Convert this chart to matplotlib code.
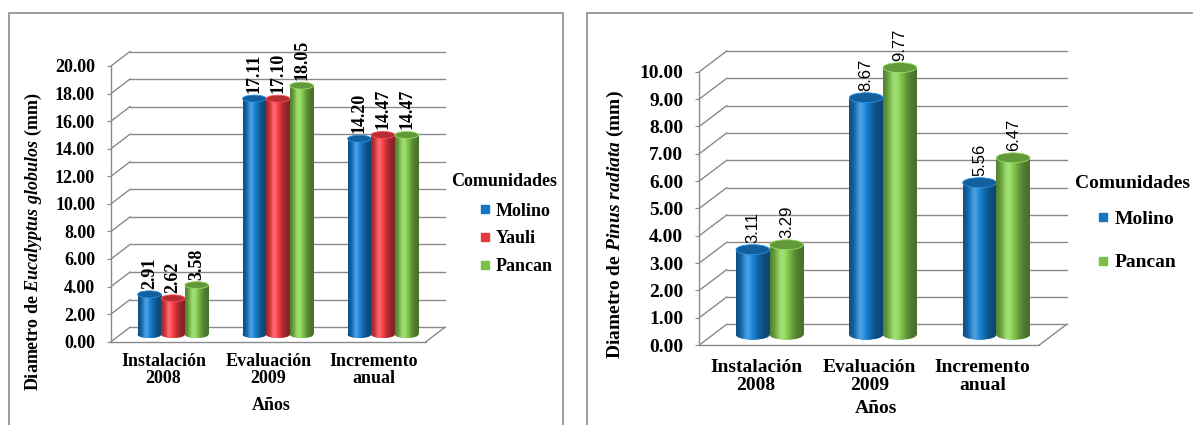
import matplotlib.pyplot as plt
import numpy as np
from matplotlib.patches import Ellipse, Rectangle
from matplotlib.lines import Line2D
from matplotlib.colors import to_rgb

plt.rcParams['font.family'] = 'serif'
plt.rcParams['font.serif'] = ['Liberation Serif', 'DejaVu Serif']
plt.rcParams['font.weight'] = 'bold'
plt.rcParams['mathtext.fontset'] = 'custom'
plt.rcParams['mathtext.it'] = 'Liberation Serif:italic:bold'
plt.rcParams['mathtext.rm'] = 'Liberation Serif:bold'

SERIF = ['Liberation Serif', 'DejaVu Serif']

# data
categories = ['Instalación\n2008', 'Evaluación\n2009', 'Incremento\nanual']

euc_names = ['Molino', 'Yauli', 'Pancan']
euc_molino = [2.91, 17.11, 14.20]
euc_yauli = [2.62, 17.10, 14.47]
euc_pancan = [3.58, 18.05, 14.47]

pin_names = ['Molino', 'Pancan']
pin_molino = [3.11, 8.67, 5.56]
pin_pancan = [3.29, 9.77, 6.47]

colors = {'Molino': '#1577c4', 'Yauli': '#e6383f', 'Pancan': '#7bbf48'}
grid_c = '#8a8a8a'

W, H = 1193, 425
fig = plt.figure(figsize=(W / 100, H / 100), dpi=100)


def fx(x):
    return x / W


def fy(y):
    return 1 - y / H


# panel frames
fig.add_artist(Rectangle((fx(8.5), fy(440)), fx(563) - fx(8.5), fy(12.7) - fy(440),
                         transform=fig.transFigure, fill=False, ec='#8c8c8c', lw=1.2))
fig.add_artist(Rectangle((fx(587), fy(440)), fx(1220) - fx(587), fy(12.7) - fy(440),
                         transform=fig.transFigure, fill=False, ec='#8c8c8c', lw=1.2))


def cylinder(ax, x, base, h, w, eh, color, z):
    rgb = np.array(to_rgb(color))
    t = np.linspace(0, 1, 80)
    shade = 0.58 + 0.55 * np.exp(-((t - 0.4) / 0.3) ** 2)
    img = np.clip(rgb[None, :] * shade[:, None], 0, 1)
    glow = 0.22 * np.exp(-((t - 0.33) / 0.12) ** 2)
    img = img + (1 - img) * glow[:, None]
    img = img[None, :, :]
    bar = ax.bar(x, h, w, bottom=base, color=color, lw=0, zorder=z, clip_on=False)[0]
    im = ax.imshow(img, extent=(x - w / 2, x + w / 2, base, base + h), aspect='auto',
                   zorder=z + 0.1, interpolation='bilinear')
    im.set_clip_box(None)
    im.set_clip_path(bar)
    bot = Ellipse((x, base), w, eh, color=color, lw=0, zorder=z, clip_on=False)
    ax.add_patch(bot)
    im2 = ax.imshow(img, extent=(x - w / 2, x + w / 2, base - eh / 2, base + eh / 2),
                    aspect='auto', zorder=z + 0.1, interpolation='bilinear')
    im2.set_clip_box(None)
    im2.set_clip_path(bot)
    top = Ellipse((x, base + h), w, eh, fc=np.clip(rgb * 0.8, 0, 1),
                  ec=np.clip(rgb * 1.05 + 0.08, 0, 1), lw=0.6, zorder=z + 0.2, clip_on=False)
    ax.add_patch(top)


def panel(box, series, names, ymax, step, depth, ell_px, bw, fs, val_font, title_xy,
          leg_xy, leg_space, ylab, ylab_xy, xlab_xy, cat_pad):
    x0, x1, yb, yt = box
    ax = fig.add_axes([fx(x0), fy(yb), fx(x1) - fx(x0), fy(yt) - fy(yb)])
    n = len(categories)
    ax.set_xlim(-0.5, n - 0.5)
    ax.set_ylim(0, ymax)
    ddx = depth[0] / ((x1 - x0) / n)
    ddy = depth[1] / ((yb - yt) / ymax)
    eh = ell_px / ((yb - yt) / ymax)

    ticks = np.arange(0, ymax + step / 2, step)
    for v in ticks:
        ax.plot([-0.5, -0.5 + ddx], [v, v + ddy], color=grid_c, lw=1, clip_on=False, zorder=1)
        ax.plot([-0.5 + ddx, n - 0.5 + ddx], [v + ddy, v + ddy], color=grid_c, lw=1,
                clip_on=False, zorder=1)
    ax.plot([n - 0.5, n - 0.5 + ddx], [0, ddy], color=grid_c, lw=1, clip_on=False, zorder=1)

    k = len(series)
    for j, (vals, name) in enumerate(zip(series, names)):
        for i, v in enumerate(vals):
            xc = i + ddx / 2 + (j - (k - 1) / 2) * bw
            cylinder(ax, xc, ddy / 2, v, bw, eh, colors[name], 3 + j)
            ax.annotate(f'{v:.2f}', (xc, v + ddy / 2 + eh / 2), xytext=(0, 1.5),
                        textcoords='offset points', rotation=90, ha='center', va='bottom',
                        zorder=10, annotation_clip=False, **val_font)

    ax.set_xlim(-0.5, n - 0.5)
    ax.set_ylim(0, ymax)
    for s in ['top', 'right']:
        ax.spines[s].set_visible(False)
    for s in ['left', 'bottom']:
        ax.spines[s].set_color(grid_c)
        ax.spines[s].set_linewidth(1)
    ax.set_yticks(ticks)
    ax.set_yticklabels([f'{v:.2f}' for v in ticks], fontsize=fs, family=SERIF, weight='bold')
    ax.tick_params(axis='y', length=3, color=grid_c, pad=8.5)
    ax.set_xticks(range(n))
    ax.set_xticklabels(categories, fontsize=fs, linespacing=1.05, family=SERIF, weight='bold')
    ax.tick_params(axis='x', length=0, pad=cat_pad)
    ax.patch.set_visible(False)

    fig.text(fx(xlab_xy[0]), fy(xlab_xy[1]), 'Años', fontsize=fs, ha='center', va='center',
             family=SERIF, weight='bold')
    fig.text(fx(ylab_xy[0]), fy(ylab_xy[1]), ylab, fontsize=fs, rotation=90,
             ha='center', va='center', family=SERIF, weight='bold')
    fig.text(fx(title_xy[0]), fy(title_xy[1]), 'Comunidades', fontsize=fs,
             ha='center', va='center', family=SERIF, weight='bold')
    handles = [Line2D([], [], marker='s', ls='', color=colors[nm], markersize=5.5)
               for nm in names]
    ax.legend(handles, names, loc='upper left', bbox_to_anchor=(fx(leg_xy[0]), fy(leg_xy[1])),
              bbox_transform=fig.transFigure, frameon=False,
              prop=dict(family=SERIF, weight='bold', size=fs),
              handlelength=0.45, handletextpad=0.35, labelspacing=leg_space,
              borderpad=0, borderaxespad=0)


panel((111, 426, 341.7, 66), [euc_molino, euc_yauli, euc_pancan], euc_names, 20, 2,
      (19, 14.5), 7, 0.225, 13, dict(fontsize=13, fontweight='bold', family=SERIF),
      (504, 182), (481, 202.5), 0.6,
      'Diametro de $\\mathit{Eucalyptus\\ globulos}$ (mm)', (33, 241.5), (271, 406), 8)

panel((699.3, 1039.3, 345, 71.7), [pin_molino, pin_pancan], pin_names, 10, 1,
      (27.4, 20.7), 10, 0.297, 14,
      dict(fontsize=12, fontweight='normal', family=['Liberation Sans', 'DejaVu Sans']),
      (1133, 183.3), (1099, 210), 1.35,
      'Diametro de $\\mathit{Pinus\\ radiata}$ (mm)', (615, 225), (876, 408.3), 10)

fig.savefig('out.png', dpi=100)
